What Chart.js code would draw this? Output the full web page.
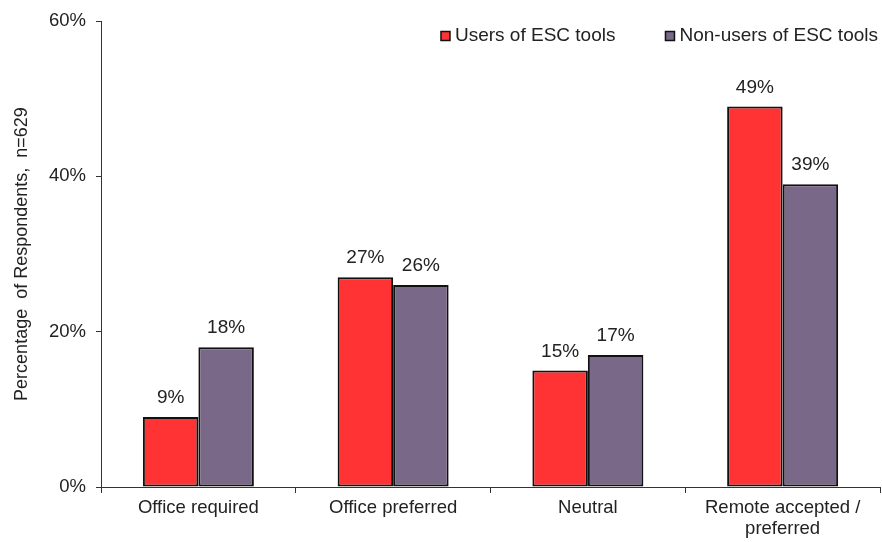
<!DOCTYPE html>
<html>
<head>
<meta charset="utf-8">
<script src="https://cdn.jsdelivr.net/npm/chart.js@4/dist/chart.umd.min.js"></script>
<style>
  html, body { margin: 0; padding: 0; background: #fff; }
  #wrap { width: 882px; height: 542px; }
</style>
</head>
<body>
<div id="wrap"><canvas id="chart" width="882" height="542"></canvas></div>
<script>
// categories and survey shares (%)
const categories = ['Office required', 'Office preferred', 'Neutral', ['Remote accepted /', 'preferred']];
const usersESC    = [9, 27, 15, 49];
const nonUsersESC = [18, 26, 17, 39];
const yTicks = [0, 20, 40, 60];

const font = 'Liberation Sans, Arial, sans-serif';
const textColor = '#222';

// value labels above each bar
const barLabels = {
  id: 'barLabels',
  afterDatasetsDraw(chart) {
    const ctx = chart.ctx;
    ctx.save();
    ctx.font = '19px ' + font;
    ctx.fillStyle = textColor;
    ctx.textAlign = 'center';
    ctx.textBaseline = 'alphabetic';
    chart.data.datasets.forEach((ds, i) => {
      chart.getDatasetMeta(i).data.forEach((bar, j) => {
        ctx.fillText(ds.data[j] + '%', bar.x, bar.y - 14);
      });
    });
    ctx.restore();
  }
};

// small legend in the top right corner of the plot
const cornerLegend = {
  id: 'cornerLegend',
  afterDraw(chart) {
    const ctx = chart.ctx;
    const box = 9, gapBox = 5, gapItem = 50;
    ctx.save();
    ctx.font = '19px ' + font;
    ctx.textBaseline = 'middle';
    ctx.textAlign = 'left';
    let x = chart.chartArea.right - 2;
    const y = 36;
    const items = chart.data.datasets.slice().reverse();
    items.forEach((ds, k) => {
      const w = ctx.measureText(ds.label).width;
      const tx = x - w;
      ctx.fillStyle = textColor;
      ctx.fillText(ds.label, tx, y);
      const bx = tx - gapBox - box;
      ctx.fillStyle = ds.backgroundColor;
      ctx.fillRect(bx, y - box / 2, box, box);
      ctx.strokeStyle = '#111';
      ctx.lineWidth = 1.5;
      ctx.strokeRect(bx, y - box / 2, box, box);
      x = bx - gapItem;
    });
    ctx.restore();
  }
};

new Chart(document.getElementById('chart'), {
  type: 'bar',
  data: {
    labels: categories,
    datasets: [
      { label: 'Users of ESC tools', data: usersESC, backgroundColor: '#FF3333', borderColor: '#111', borderWidth: 2, borderSkipped: false },
      { label: 'Non-users of ESC tools', data: nonUsersESC, backgroundColor: '#7A6888', borderColor: '#111', borderWidth: 2, borderSkipped: false }
    ]
  },
  options: {
    responsive: false,
    animation: false,
    devicePixelRatio: 1,
    layout: { padding: { top: 20, right: 2, left: 0, bottom: 0 } },
    datasets: { bar: { categoryPercentage: 0.57, barPercentage: 1.0 } },
    plugins: {
      tooltip: { enabled: false },
      legend: { display: false }
    },
    scales: {
      x: {
        afterFit: s => { s.height = 55; },
        border: { display: true, color: '#333', width: 1 },
        grid: { display: true, drawOnChartArea: false, drawTicks: true, tickLength: 6, color: '#333', offset: true },
        ticks: { color: textColor, padding: 5, font: { family: font, size: 18.5, lineHeight: 1.1 }, maxRotation: 0 }
      },
      y: {
        min: 0, max: 60,
        afterFit: s => { s.width = 101; },
        afterBuildTicks: s => { s.ticks = yTicks.map(v => ({ value: v })); },
        border: { display: true, color: '#333', width: 1 },
        grid: { display: true, drawOnChartArea: false, drawTicks: true, tickLength: 5, color: '#333' },
        ticks: { color: textColor, padding: 10, font: { family: font, size: 18.5 }, callback: v => v + '%' },
        title: { display: true, text: 'Percentage  of Respondents,  n=629', color: textColor, font: { family: font, size: 18 }, padding: { top: 11, bottom: 0 } }
      }
    }
  },
  plugins: [barLabels, cornerLegend]
});
</script>
</body>
</html>
